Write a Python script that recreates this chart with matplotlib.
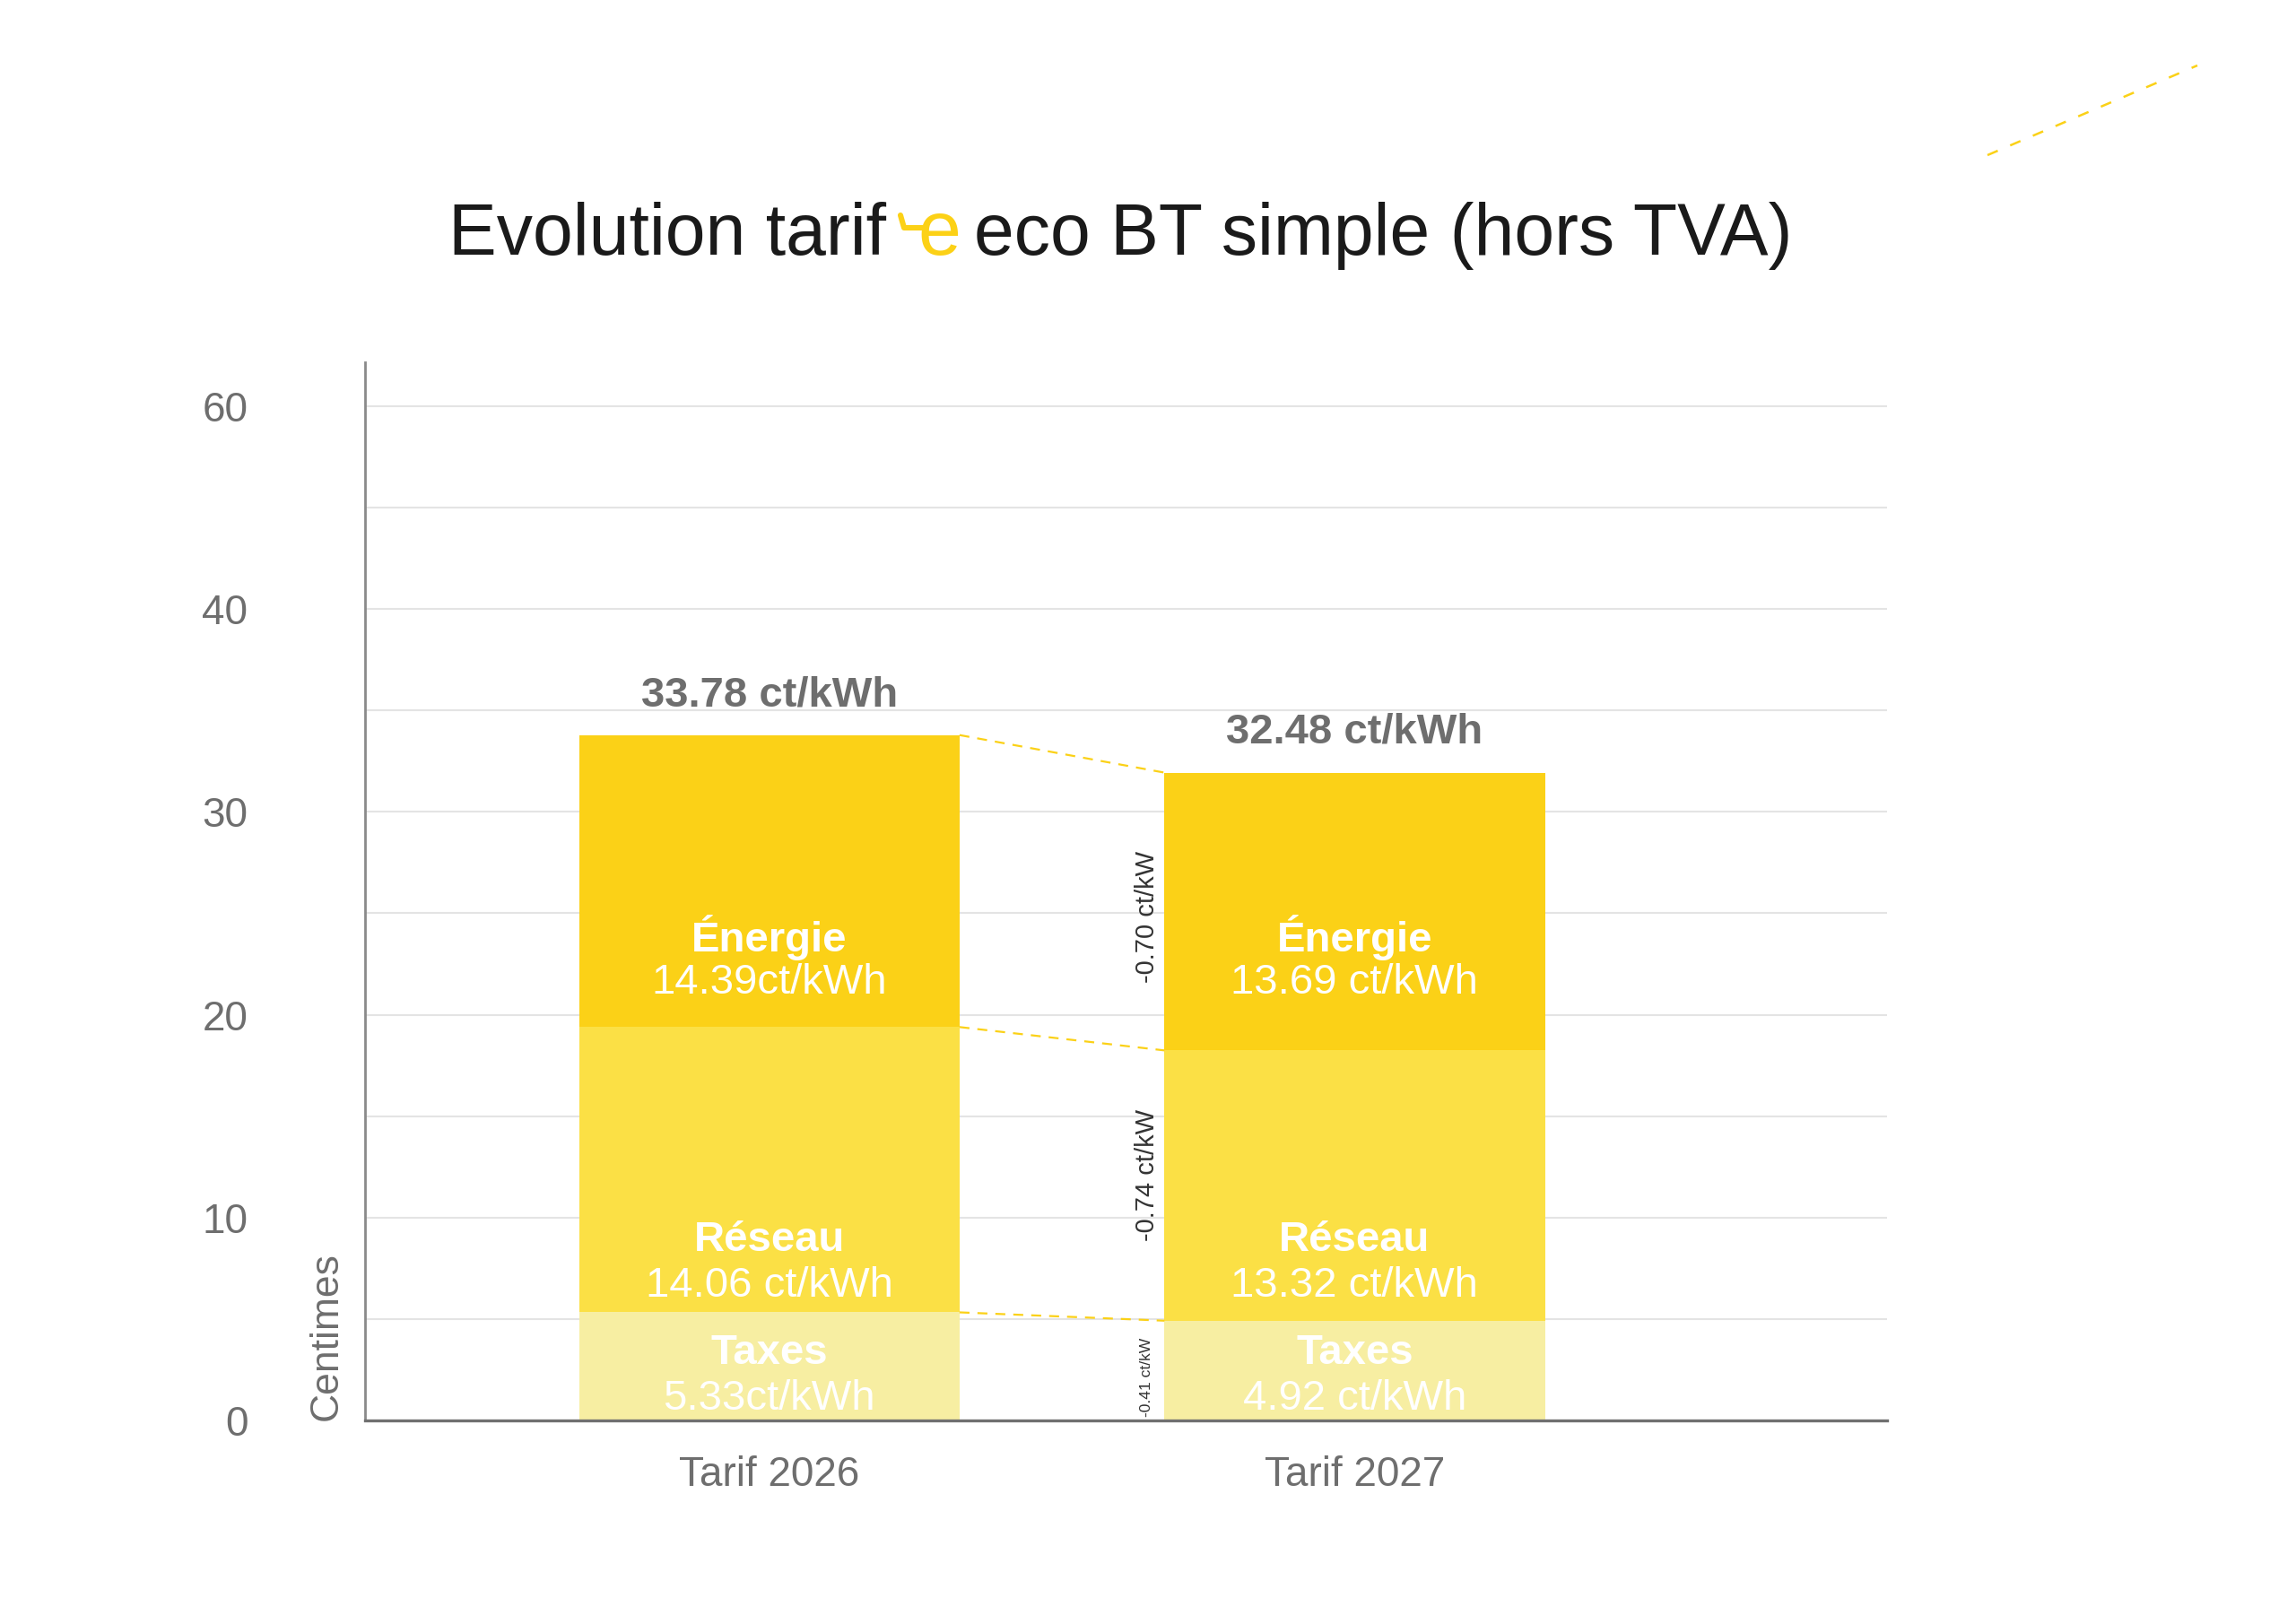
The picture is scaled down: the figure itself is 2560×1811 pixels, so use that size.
import matplotlib.pyplot as plt
from matplotlib.lines import Line2D

plt.rcParams["font.family"] = ["Liberation Sans", "DejaVu Sans"]

tarifs = ["Tarif 2026", "Tarif 2027"]
taxes = [5.33, 4.92]
reseau = [14.06, 13.32]
energie = [14.39, 13.69]
totals = ["33.78 ct/kWh", "32.48 ct/kWh"]

energie_labels = ["14.39ct/kWh", "13.69 ct/kWh"]
reseau_labels = ["14.06 ct/kWh", "13.32 ct/kWh"]
taxes_labels = ["5.33ct/kWh", "4.92 ct/kWh"]

deltas = ["-0.41 ct/kW", "-0.74 ct/kW", "-0.70 ct/kW"]

ytick_vals = [0, 10, 20, 30, 40, 50]
ytick_text = ["0", "10", "20", "30", "40", "60"]

col_energie = "#fbd117"
col_reseau = "#fbe045"
col_taxes = "#f7eea2"
gray = "#6e6e6e"

fig = plt.figure(figsize=(12.8, 9.055), dpi=200)
ax = fig.add_axes([0.159, 0.1253, 0.6629, 0.6516])

x = [0, 1]
w = 0.65

for y in range(5, 51, 5):
    ax.axhline(y, color="#e4e4e4", lw=0.75, zorder=0)

bottom2 = [t + r for t, r in zip(taxes, reseau)]
tops = [b + e for b, e in zip(bottom2, energie)]

ax.bar(x, taxes, w, color=col_taxes, zorder=2)
ax.bar(x, reseau, w, bottom=taxes, color=col_reseau, zorder=2)
ax.bar(x, energie, w, bottom=bottom2, color=col_energie, zorder=2)

# dashed connectors between segment tops
for lvl in [taxes, bottom2, tops]:
    ax.plot([x[0] + w / 2, x[1] - w / 2], [lvl[0], lvl[1]],
            color=col_energie, lw=0.8, ls=(0, (5, 4)), zorder=3)

# labels inside bars
for i in range(2):
    ax.text(x[i], 23.8, "Énergie", ha="center", va="center",
            color="white", fontsize=17, fontweight="bold", zorder=4)
    ax.text(x[i], 21.55, energie_labels[i], ha="center", va="center",
            color="white", fontsize=17, zorder=4)
    ax.text(x[i], 8.9, "Réseau", ha="center", va="center",
            color="white", fontsize=17, fontweight="bold", zorder=4)
    ax.text(x[i], 6.65, reseau_labels[i], ha="center", va="center",
            color="white", fontsize=17, zorder=4)
    ax.text(x[i], 3.3, "Taxes", ha="center", va="center",
            color="white", fontsize=17, fontweight="bold", zorder=4)
    ax.text(x[i], 1.05, taxes_labels[i], ha="center", va="center",
            color="white", fontsize=17, zorder=4)
    ax.text(x[i], tops[i] + 1.0, totals[i], ha="center", va="bottom",
            color=gray, fontsize=17, fontweight="bold", zorder=4)

# deltas beside the 2027 bar
ax.text(0.645, 2.15, deltas[0], rotation=90, ha="center", va="center",
        fontsize=6.3, color="#333333")
ax.text(0.645, 12.1, deltas[1], rotation=90, ha="center", va="center",
        fontsize=10.5, color="#333333")
ax.text(0.645, 24.8, deltas[2], rotation=90, ha="center", va="center",
        fontsize=10.5, color="#333333")

ax.set_xlim(-0.6905, 1.9095)
ax.set_ylim(0, 52.15)
ax.set_xticks(x)
ax.set_xticklabels(tarifs, fontsize=16.5, color=gray)
ax.set_yticks(ytick_vals)
ax.set_yticklabels(ytick_text, fontsize=16.5, color=gray)
ax.tick_params(axis="both", length=0)
ax.tick_params(axis="y", pad=47)
ax.tick_params(axis="x", pad=14)

for s in ["top", "right"]:
    ax.spines[s].set_visible(False)
ax.spines["left"].set_color("#8a8a8a")
ax.spines["left"].set_linewidth(1.0)
ax.spines["bottom"].set_color("#707070")
ax.spines["bottom"].set_linewidth(1.2)

ax.text(-0.0253, 0, "Centimes", rotation=90, transform=ax.get_yaxis_transform(),
        ha="center", va="bottom", fontsize=16, color=gray)

# title with yellow "e" logo
fig.text(988 / 2560, 0.843, "Evolution tarif", ha="right", va="baseline",
         fontsize=29, color="#1a1a1a")
fig.text(1047 / 2560, 0.843, "e", ha="center", va="baseline",
         fontsize=31, color="#fcd116")
fig.add_artist(Line2D([1004 / 2560, 1008 / 2560, 1030 / 2560],
                      [1 - 240 / 1811, 1 - 254 / 1811, 1 - 254 / 1811],
                      color="#fcd116", lw=2.2, solid_capstyle="round",
                      transform=fig.transFigure))
fig.text(1086 / 2560, 0.843, "eco BT simple (hors TVA)", ha="left",
         va="baseline", fontsize=29, color="#1a1a1a")

# stray dashed stroke top right
fig.add_artist(Line2D([2216 / 2560, 2450 / 2560],
                      [1 - 173 / 1811, 1 - 73 / 1811],
                      color=col_energie, lw=0.9, ls=(0, (5, 6)),
                      transform=fig.transFigure))

fig.savefig("out.png", dpi=200, facecolor="white")
